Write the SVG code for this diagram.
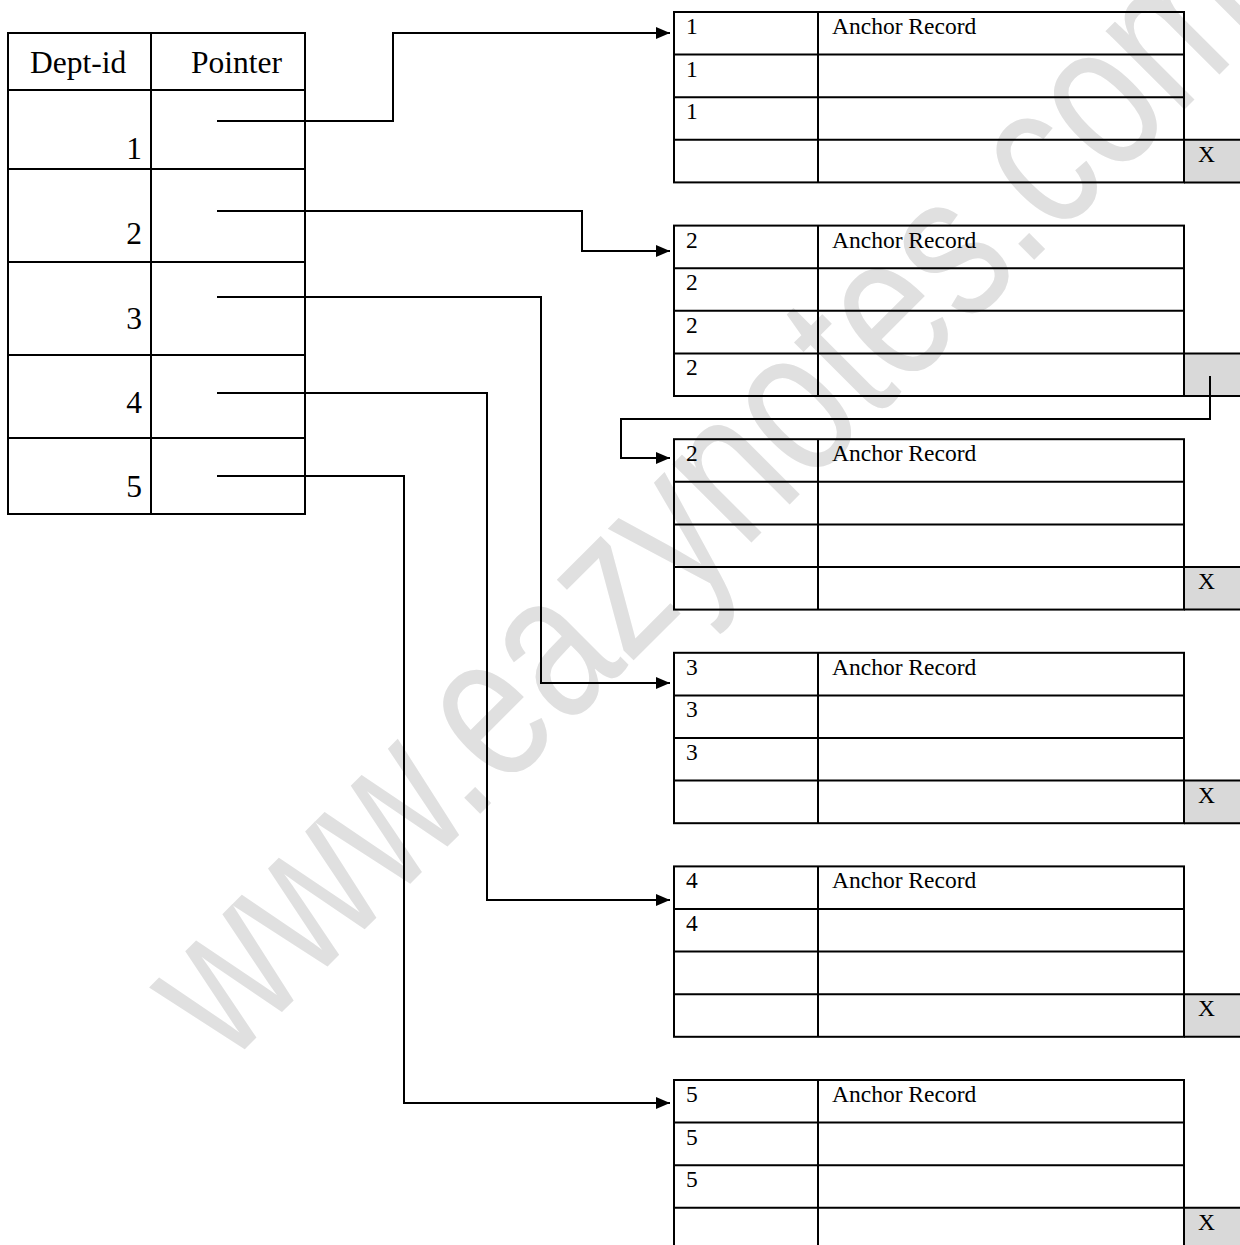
<svg xmlns="http://www.w3.org/2000/svg" width="1240" height="1245" viewBox="0 0 1240 1245">
<defs>
<marker id="arr" markerUnits="userSpaceOnUse" markerWidth="16" markerHeight="14" refX="14" refY="6" orient="auto">
<path d="M0,0 L14,6 L0,12 Z" fill="#000"/>
</marker>
<style>
.ln{stroke:#000;stroke-width:2;fill:none}
.gray{fill:#d9d9d9}
.big{font-family:"Liberation Serif","Times New Roman",serif;font-size:31.5px;fill:#000}
.sm{font-family:"Liberation Serif","Times New Roman",serif;font-size:23.5px;fill:#000}
.wm{font-family:"Liberation Sans",Arial,sans-serif;font-size:162px;fill:#e0e0e0}
.con{stroke:#000;stroke-width:2;fill:none;marker-end:url(#arr)}
</style>
</defs>
<rect width="1240" height="1245" fill="#fff"/>
<text class="wm" transform="translate(228,1066) rotate(-45) scale(1,1.3)">www.eazynotes.com</text>

<g id="dept-table">
<rect class="ln" x="8" y="33" width="297" height="481"/>
<path class="ln" d="M151,33 V514 M8,90 H305 M8,169 H305 M8,262 H305 M8,355 H305 M8,438 H305"/>
<text class="big" x="30" y="73">Dept-id</text>
<text class="big" x="191" y="73">Pointer</text>
<g text-anchor="end">
<text class="big" x="142" y="159">1</text>
<text class="big" x="142" y="244">2</text>
<text class="big" x="142" y="329">3</text>
<text class="big" x="142" y="413">4</text>
<text class="big" x="142" y="497">5</text>
</g>
</g>

<g id="block-1">
<rect class="gray" x="1184" y="140" width="58" height="42.6"/>
<rect class="ln" x="674" y="12" width="510" height="170.4"/>
<path class="ln" d="M818,12 V182.4 M674,54.6 H1184 M674,97.2 H1184 M674,139.8 H1242 M1184,182.4 H1242"/>
<text class="sm" x="686" y="34">1</text><text class="sm" x="832" y="34">Anchor Record</text>
<text class="sm" x="686" y="76.6">1</text>
<text class="sm" x="686" y="119.2">1</text>
<text class="sm" x="1198" y="161.8">X</text>
</g>

<g id="block-2">
<rect class="gray" x="1184" y="353.4" width="58" height="42.6"/>
<rect class="ln" x="674" y="225.6" width="510" height="170.4"/>
<path class="ln" d="M818,225.6 V396 M674,268.2 H1184 M674,310.8 H1184 M674,353.4 H1242 M1184,396 H1242"/>
<text class="sm" x="686" y="247.6">2</text><text class="sm" x="832" y="247.6">Anchor Record</text>
<text class="sm" x="686" y="290.2">2</text>
<text class="sm" x="686" y="332.8">2</text>
<text class="sm" x="686" y="375.4">2</text>
</g>

<g id="block-3">
<rect class="gray" x="1184" y="567" width="58" height="42.6"/>
<rect class="ln" x="674" y="439.2" width="510" height="170.4"/>
<path class="ln" d="M818,439.2 V609.6 M674,481.8 H1184 M674,524.4 H1184 M674,567 H1242 M1184,609.6 H1242"/>
<text class="sm" x="686" y="461.2">2</text><text class="sm" x="832" y="461.2">Anchor Record</text>
<text class="sm" x="1198" y="589">X</text>
</g>

<g id="block-4">
<rect class="gray" x="1184" y="780.6" width="58" height="42.6"/>
<rect class="ln" x="674" y="652.8" width="510" height="170.4"/>
<path class="ln" d="M818,652.8 V823.2 M674,695.4 H1184 M674,738 H1184 M674,780.6 H1242 M1184,823.2 H1242"/>
<text class="sm" x="686" y="674.8">3</text><text class="sm" x="832" y="674.8">Anchor Record</text>
<text class="sm" x="686" y="717.4">3</text>
<text class="sm" x="686" y="760">3</text>
<text class="sm" x="1198" y="802.6">X</text>
</g>

<g id="block-5">
<rect class="gray" x="1184" y="994.2" width="58" height="42.6"/>
<rect class="ln" x="674" y="866.4" width="510" height="170.4"/>
<path class="ln" d="M818,866.4 V1036.8 M674,909 H1184 M674,951.6 H1184 M674,994.2 H1242 M1184,1036.8 H1242"/>
<text class="sm" x="686" y="888.4">4</text><text class="sm" x="832" y="888.4">Anchor Record</text>
<text class="sm" x="686" y="931">4</text>
<text class="sm" x="1198" y="1016.2">X</text>
</g>

<g id="block-6">
<rect class="gray" x="1184" y="1207.8" width="58" height="42.6"/>
<rect class="ln" x="674" y="1080" width="510" height="170.4"/>
<path class="ln" d="M818,1080 V1250.4 M674,1122.6 H1184 M674,1165.2 H1184 M674,1207.8 H1242"/>
<text class="sm" x="686" y="1102">5</text><text class="sm" x="832" y="1102">Anchor Record</text>
<text class="sm" x="686" y="1144.6">5</text>
<text class="sm" x="686" y="1187.2">5</text>
<text class="sm" x="1198" y="1229.8">X</text>
</g>

<g id="connectors">
<path class="con" d="M217,121 H393 V33 H670"/>
<path class="con" d="M217,211 H582 V251 H670"/>
<path class="con" d="M217,297 H541 V683 H670"/>
<path class="con" d="M217,393 H487 V900 H670"/>
<path class="con" d="M217,476 H404 V1103 H670"/>
<path class="con" d="M1210,376 V419 H621 V458 H670"/>
</g>
</svg>
